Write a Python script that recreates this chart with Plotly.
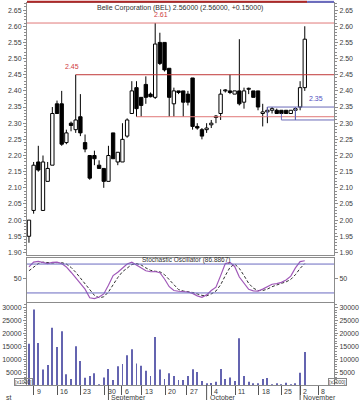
import plotly.graph_objects as go

# ---------------- data (trading-day index 0..59, Aug -> 2 Nov) ----------------
opens  = [1.95, 2.03, 2.18, 2.03, 2.12, 2.17, 2.36, 2.36, 2.24, 2.30,
          2.28, 2.32, 2.24, 2.20, 2.20, 2.17, 2.16, 2.12, 2.27, 2.18,
          2.18, 2.26, 2.33, 2.41, 2.38, 2.42, 2.39, 2.38, 2.55, 2.55,
          2.47, 2.36, 2.40, 2.40, 2.39, 2.44, 2.29, 2.28, 2.28, 2.295,
          2.322, 2.33, 2.40, 2.40, 2.39, 2.40, 2.365, 2.405, 2.40, 2.40,
          2.33, 2.335, 2.34, 2.34, 2.34, 2.34, 2.33, 2.34, 2.35, 2.41]
highs  = [2.00, 2.18, 2.23, 2.20, 2.18, 2.35, 2.37, 2.40, 2.28, 2.305,
          2.45, 2.39, 2.265, 2.20, 2.215, 2.185, 2.16, 2.23, 2.27, 2.21,
          2.30, 2.315, 2.43, 2.43, 2.38, 2.445, 2.395, 2.61, 2.58, 2.55,
          2.47, 2.41, 2.40, 2.40, 2.40, 2.44, 2.30, 2.285, 2.30, 2.31,
          2.325, 2.405, 2.405, 2.45, 2.40, 2.56, 2.41, 2.41, 2.40, 2.40,
          2.36, 2.35, 2.35, 2.345, 2.34, 2.34, 2.34, 2.35, 2.43, 2.60]
lows   = [1.93, 2.02, 2.15, 2.03, 2.12, 2.17, 2.33, 2.23, 2.235, 2.275,
          2.27, 2.26, 2.21, 2.125, 2.17, 2.16, 2.10, 2.12, 2.19, 2.17,
          2.18, 2.255, 2.33, 2.32, 2.32, 2.36, 2.38, 2.375, 2.48, 2.46,
          2.32, 2.32, 2.39, 2.32, 2.355, 2.28, 2.28, 2.25, 2.27, 2.285,
          2.30, 2.31, 2.395, 2.39, 2.39, 2.355, 2.345, 2.39, 2.38, 2.34,
          2.29, 2.30, 2.33, 2.33, 2.33, 2.33, 2.33, 2.31, 2.34, 2.40]
closes = [2.00, 2.17, 2.155, 2.18, 2.16, 2.33, 2.33, 2.235, 2.27, 2.293,
          2.31, 2.27, 2.22, 2.13, 2.19, 2.16, 2.12, 2.20, 2.19, 2.21,
          2.25, 2.31, 2.40, 2.345, 2.355, 2.38, 2.382, 2.545, 2.485, 2.465,
          2.38, 2.40, 2.395, 2.365, 2.365, 2.29, 2.285, 2.26, 2.285, 2.30,
          2.318, 2.39, 2.40, 2.395, 2.40, 2.36, 2.40, 2.405, 2.38, 2.35,
          2.335, 2.34, 2.345, 2.33, 2.33, 2.33, 2.34, 2.345, 2.41, 2.56]
volume = [16000, 29200, 16300, 6000, 7700, 22200, 14700, 20800, 4200, 2300,
          15000, 9300, 2800, 3500, 4500, 300, 2900, 6150, 1900, 7300,
          8100, 11500, 13800, 8300, 7450, 5500, 3450, 18600, 6000, 2300,
          4500, 3450, 1900, 1900, 3450, 6100, 5000, 1500, 600, 800,
          1300, 6150, 2300, 2950, 1500, 18100, 3450, 1300, 650, 650,
          2300, 2700, 300, 400, 300, 900, 300, 400, 4750, 12800]
stoch_k = [74, 84, 85.5, 83, 81, 83.5, 84, 81, 74, 63,
           51, 40, 28, 10, 8.4, 11.5, 18, 36, 56, 63,
           72, 80, 84, 78, 72, 66, 64, 64.5, 62, 49,
           33, 25, 23.5, 22.5, 22, 19, 14, 11, 16, 25,
           32, 56, 81, 83.5, 75, 53, 39.5, 27.5, 24.5, 24,
           28, 33, 38, 39.5, 42, 47, 55, 72, 85, 86.9]
stoch_d = [66, 74, 81, 84, 83, 82, 83, 83, 80, 73,
           63, 51, 40, 26, 15, 10, 12, 22, 37, 52,
           64, 72, 79, 81, 78, 72, 67, 65, 64, 58,
           48, 36, 27, 24, 23, 21, 18, 15, 14, 18,
           24, 37, 56, 73, 80, 71, 56, 40, 30, 25,
           25, 28, 33, 37, 40, 43, 48, 58, 71, 81]

day_tick_text = ['9', '16', '23', '30', '6', '13', '20', '27', '4', '11', '18', '25', '2', '8']
day_tick_pos = [1.0, 6.0, 11.0, 16.2, 19.9, 24.1, 29.1, 33.8, 39.0, 44.1, 49.1, 54.0, 58.0, 61.9]
month_text = ['September', 'October', 'November']
month_pos = [17.0, 38.0, 58.0]
price_tick_vals = [1.90, 1.95, 2.00, 2.05, 2.10, 2.15, 2.20, 2.25, 2.30, 2.35, 2.40, 2.45, 2.50, 2.55, 2.60, 2.65]
price_tick_text = ['%.2f' % v for v in price_tick_vals]
vol_tick_vals = [5000, 10000, 15000, 20000, 25000, 30000]
vol_tick_text = [str(v) for v in vol_tick_vals]
title_text = 'Belle Corporation (BEL) 2.56000 (2.56000, +0.15000)'
stoch_title = 'Stochastic Oscillator (86.8867)'

# ---------------- derived ----------------
n = len(closes)
idx = list(range(n))
body_lo = [min(o, c) for o, c in zip(opens, closes)]
body_hi = [max(o, c) for o, c in zip(opens, closes)]
body_h = [max(h - l, 0.003) for h, l in zip(body_hi, body_lo)]
body_col = ['white' if c >= o else 'black' for o, c in zip(opens, closes)]
wx, wy = [], []
for i in idx:
    wx += [i, i, None, i, i, None]
    wy += [lows[i], body_lo[i], None, body_hi[i], highs[i], None]

FONT = 'Liberation Sans'
TXT = '#3a3a3a'
AX = '#8c8c8c'
XR = [-0.42, 65.25]
PR = [1.891, 2.672]
SR = [1.4, 93.3]
VR = [0, 31660]

fig = go.Figure()
fig.add_trace(go.Scatter(x=wx, y=wy, mode='lines', line=dict(color='black', width=1),
                         xaxis='x', yaxis='y', hoverinfo='skip'))
fig.add_trace(go.Bar(x=idx, y=body_h, base=body_lo, width=0.72,
                     marker=dict(color=body_col, line=dict(color='black', width=1)),
                     xaxis='x', yaxis='y'))
fig.add_trace(go.Scatter(x=idx, y=closes, mode='none', xaxis='x', yaxis='y4', hoverinfo='skip'))

fig.add_trace(go.Scatter(x=idx, y=stoch_d, mode='lines',
                         line=dict(color='#303030', width=1, dash='3px,2px'),
                         xaxis='x2', yaxis='y2'))
fig.add_trace(go.Scatter(x=idx, y=stoch_k, mode='lines',
                         line=dict(color='#a058b8', width=1.2),
                         xaxis='x2', yaxis='y2'))
fig.add_trace(go.Scatter(x=idx, y=stoch_k, mode='none', xaxis='x2', yaxis='y5', hoverinfo='skip'))

fig.add_trace(go.Bar(x=idx, y=volume, width=0.19, marker=dict(color='#6464b0', line=dict(width=0)),
                     xaxis='x3', yaxis='y3'))
fig.add_trace(go.Scatter(x=idx, y=volume, mode='none', xaxis='x3', yaxis='y6', hoverinfo='skip'))

tickfont = dict(family=FONT, size=7, color=TXT)
xcommon = dict(range=XR, showline=True, mirror=True, linecolor=AX, linewidth=1,
               showgrid=False, zeroline=False, showticklabels=False, fixedrange=True)
ycommon = dict(showline=True, linecolor=AX, linewidth=1, showgrid=False, zeroline=False,
               ticks='outside', ticklen=3, tickcolor=AX, tickfont=tickfont)

D_MAIN = [0.3394, 1.0]
D_STO = [0.2175, 0.3334]
D_VOL = [0.0, 0.2141]

fig.update_layout(
    width=361, height=400,
    margin=dict(l=25, r=26, t=2, b=15),
    paper_bgcolor='white', plot_bgcolor='white',
    showlegend=False, barmode='overlay',
    xaxis=dict(domain=[0, 1], anchor='y', ticks='', **xcommon),
    xaxis2=dict(domain=[0, 1], anchor='y2', matches='x', ticks='', **xcommon),
    xaxis3=dict(domain=[0, 1], anchor='y3', matches='x', ticks='outside', ticklen=9,
                tickcolor='#555', tickvals=day_tick_pos, **xcommon),
    yaxis=dict(domain=D_MAIN, range=PR, anchor='x', side='left',
               tickvals=price_tick_vals, ticktext=price_tick_text,
               minor=dict(dtick=0.01, tick0=1.9, ticks='outside', ticklen=2, tickcolor=AX),
               **ycommon),
    yaxis4=dict(range=PR, overlaying='y', anchor='x', side='right',
                tickvals=price_tick_vals, ticktext=price_tick_text,
                minor=dict(dtick=0.01, tick0=1.9, ticks='outside', ticklen=2, tickcolor=AX),
                **ycommon),
    yaxis2=dict(domain=D_STO, range=SR, anchor='x2', side='left', tickvals=[50], ticktext=['50'],
                **ycommon),
    yaxis5=dict(range=SR, overlaying='y2', anchor='x2', side='right', tickvals=[50], ticktext=['50'],
                **ycommon),
    yaxis3=dict(domain=D_VOL, range=VR, anchor='x3', side='left',
                tickvals=vol_tick_vals, ticktext=vol_tick_text,
                minor=dict(dtick=1000, ticks='outside', ticklen=2, tickcolor=AX),
                **ycommon),
    yaxis6=dict(range=VR, overlaying='y3', anchor='x3', side='right',
                tickvals=vol_tick_vals, ticktext=vol_tick_text,
                minor=dict(dtick=1000, ticks='outside', ticklen=2, tickcolor=AX),
                **ycommon),
)

shapes = []
# support / resistance lines
shapes.append(dict(type='line', xref='x', yref='y', x0=XR[0], x1=XR[1], y0=2.61, y1=2.61,
                   line=dict(color='#e07878', width=1)))
shapes.append(dict(type='line', xref='x', yref='y', x0=10, x1=XR[1], y0=2.45, y1=2.45,
                   line=dict(color='#c03838', width=1)))
shapes.append(dict(type='line', xref='x', yref='y', x0=23, x1=XR[1], y0=2.32, y1=2.32,
                   line=dict(color='#e07878', width=1)))
# blue range box
BL = '#6a6ab8'
shapes.append(dict(type='line', xref='x', yref='y', x0=51, x1=XR[1], y0=2.35, y1=2.35, line=dict(color=BL, width=1)))
shapes.append(dict(type='line', xref='x', yref='y', x0=54, x1=XR[1], y0=2.31, y1=2.31, line=dict(color=BL, width=1)))
shapes.append(dict(type='line', xref='x', yref='y', x0=51, x1=51, y0=2.32, y1=2.35, line=dict(color=BL, width=1)))
shapes.append(dict(type='line', xref='x', yref='y', x0=54, x1=54, y0=2.31, y1=2.33, line=dict(color=BL, width=1)))
shapes.append(dict(type='line', xref='x', yref='y', x0=57, x1=57, y0=2.31, y1=2.35, line=dict(color=BL, width=1)))
# stochastic bands
for lvl in (80, 20):
    shapes.append(dict(type='line', xref='x2', yref='y2', x0=XR[0], x1=XR[1], y0=lvl, y1=lvl,
                       line=dict(color='#6a6ac0', width=1)))
# top bar
shapes.append(dict(type='line', xref='x', yref='paper', x0=XR[0], x1=59.5, y0=1.003, y1=1.003,
                   line=dict(color='#b02828', width=2)))
shapes.append(dict(type='line', xref='x', yref='paper', x0=59.5, x1=XR[1], y0=1.003, y1=1.003,
                   line=dict(color='#6a6ac0', width=2)))
# month ticks
for p in month_pos:
    shapes.append(dict(type='line', xref='x3', yref='paper', x0=p, x1=p, y0=0, y1=-0.04,
                       line=dict(color='#555', width=1)))
fig.update_layout(shapes=shapes)

ann = []
small = dict(family=FONT, size=7, color=TXT)
for t, p in zip(day_tick_text, day_tick_pos):
    ann.append(dict(x=p, y=-0.002, xref='x3', yref='paper', text=t, showarrow=False,
                    xanchor='left', yanchor='top', xshift=1, font=small))
for t, p in zip(month_text, month_pos):
    ann.append(dict(x=p, y=-0.019, xref='x3', yref='paper', text=t, showarrow=False,
                    xanchor='left', yanchor='top', xshift=1, font=small))
ann.append(dict(x=0.008, y=-0.019, xref='paper', yref='paper', text='st', showarrow=False,
                xanchor='left', yanchor='top', font=small, xshift=-25))
ann.append(dict(x=28.2, y=2.635, xref='x', yref='y', text='2.61', showarrow=False,
                font=dict(family=FONT, size=7, color='#d04040')))
ann.append(dict(x=9.1, y=2.474, xref='x', yref='y', text='2.45', showarrow=False,
                font=dict(family=FONT, size=7, color='#d04040')))
ann.append(dict(x=61.3, y=2.375, xref='x', yref='y', text='2.35', showarrow=False,
                font=dict(family=FONT, size=7, color='#5050c0')))
ann.append(dict(x=14.2, y=2.656, xref='x', yref='y', text=title_text, showarrow=False,
                xanchor='left', font=dict(family=FONT, size=7, color='#303030')))
ann.append(dict(x=23.7, y=89, xref='x2', yref='y2', text=stoch_title, showarrow=False,
                xanchor='left', font=dict(family=FONT, size=6.5, color='#303030')))
for xp, xs in ((0, -13), (1, 13)):
    ann.append(dict(x=xp, y=-0.003, xref='paper', yref='paper', text='[x1000]', showarrow=False,
                    xshift=xs, yanchor='bottom', font=dict(family=FONT, size=5, color=TXT),
                    bordercolor='#888', borderwidth=1, borderpad=0))
fig.update_layout(annotations=ann)

fig.write_html('out.html')
